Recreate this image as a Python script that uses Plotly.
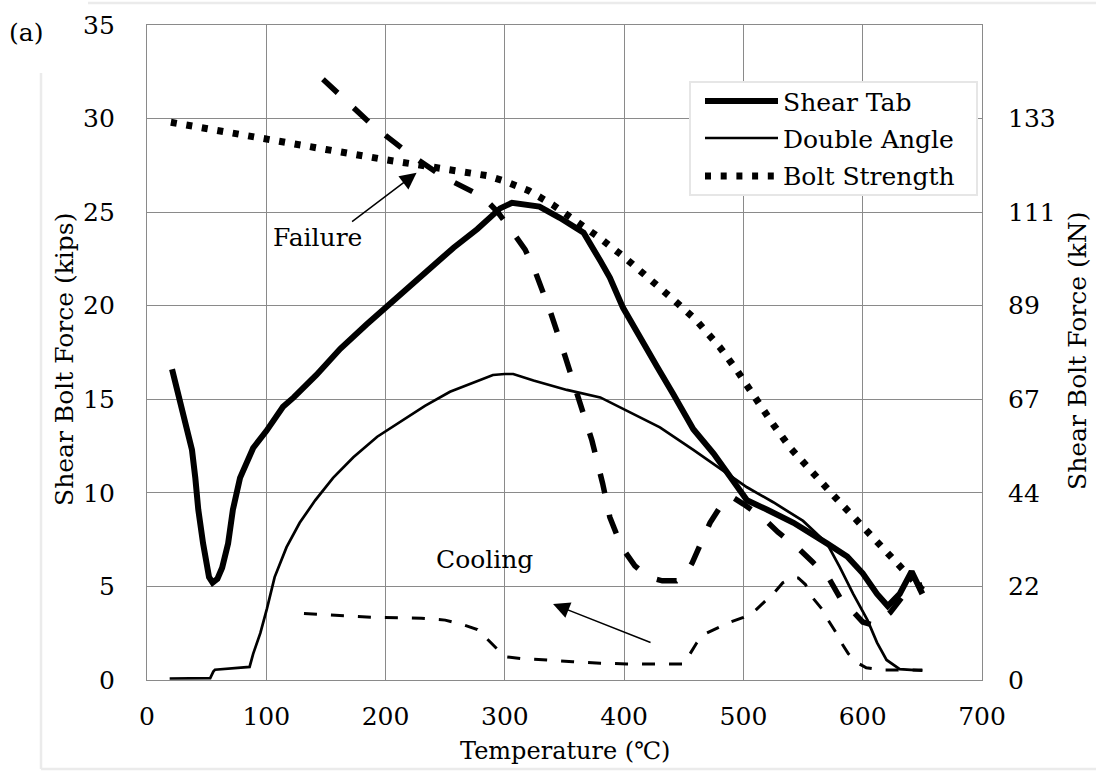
import plotly.graph_objects as go

# ---- data: shear bolt force vs. temperature ----
temp_ticks = [0, 100, 200, 300, 400, 500, 600, 700]
kips_ticks = [0, 5, 10, 15, 20, 25, 30, 35]
kn_ticks = [0, 5, 10, 15, 20, 25, 30]
kn_labels = ["0", "22", "44", "67", "89", "111", "133"]

shear_tab_T = [21, 29, 37.7, 40.5, 43, 47, 52, 55, 59, 63, 68, 72, 78, 89, 100, 114, 123,
               142, 162, 184, 212, 231, 257, 277, 296, 306, 329, 346, 366, 380, 388, 399,
               413, 428, 441, 458, 475, 486, 495, 503, 520, 542, 570, 587, 600, 612, 621,
               631, 641, 650]
shear_tab_F = [16.6, 14.4, 12.3, 10.8, 9.1, 7.3, 5.5, 5.2, 5.4, 6.0, 7.3, 9.1, 10.8, 12.4,
               13.3, 14.6, 15.1, 16.3, 17.7, 19.0, 20.6, 21.6, 23.1, 24.1, 25.2, 25.5, 25.3,
               24.7, 23.9, 22.4, 21.5, 19.9, 18.3, 16.7, 15.3, 13.4, 12.1, 11.1, 10.2, 9.6,
               9.1, 8.4, 7.3, 6.6, 5.7, 4.6, 3.95, 4.6, 5.8, 4.6]

double_angle_T = [19, 53, 55.6, 57, 86, 89, 95, 100.5, 107, 117, 128, 141, 156, 173, 193,
                  212, 233, 254, 290, 300, 307, 324, 352, 380, 396, 430, 458, 483, 503, 525,
                  550, 570, 581, 592, 604, 612, 620, 631, 650]
double_angle_F = [0.08, 0.1, 0.45, 0.55, 0.7, 1.4, 2.5, 3.8, 5.5, 7.1, 8.4, 9.6, 10.8, 11.9,
                  13.0, 13.8, 14.65, 15.4, 16.3, 16.35, 16.35, 16.0, 15.5, 15.1, 14.6, 13.5,
                  12.3, 11.2, 10.3, 9.5, 8.5, 7.3, 6.0, 4.6, 3.2, 2.0, 1.07, 0.58, 0.5]

bolt_strength_T = [20, 100, 150, 200, 250, 285, 300, 320, 340, 360, 380, 400, 420, 440, 460,
                   480, 495, 510, 525, 540, 560, 580, 600, 615, 630, 650]
bolt_strength_F = [29.8, 28.85, 28.35, 27.8, 27.35, 26.95, 26.65, 26.15, 25.4, 24.55, 23.6,
                   22.6, 21.55, 20.4, 19.25, 17.8, 16.5, 15.05, 13.65, 12.35, 10.9, 9.55,
                   8.2, 7.2, 6.15, 4.8]

shear_tab_cool_T = [147.5, 188, 218, 248, 282, 294, 307, 317, 325, 338, 350, 361, 373, 382,
                    388, 398, 409, 420, 432, 444, 451, 457, 464, 472, 482, 490, 500, 516,
                    529, 545, 558, 571, 581, 592, 600, 608, 615, 623, 635, 645, 650]
shear_tab_cool_F = [32.1, 29.7, 28.2, 26.9, 25.8, 25.0, 23.9, 23.0, 21.9, 19.7, 17.4, 15.1,
                    12.8, 10.5, 8.7, 7.1, 6.1, 5.5, 5.3, 5.3, 5.6, 6.25, 7.2, 8.4, 9.4, 9.8,
                    9.4, 8.7, 7.9, 7.1, 6.3, 5.5, 4.4, 3.6, 3.1, 2.95, 3.15, 3.6, 4.6, 5.0,
                    5.1]

double_angle_cool_T = [131.6, 160, 190, 230, 250, 265, 277, 285, 293, 300, 313, 335, 357,
                       380, 402, 450, 455, 461, 469, 479, 489, 500, 508, 518, 525, 533, 541,
                       546, 552, 558, 567, 571, 578, 582, 588, 596, 603, 617, 650]
double_angle_cool_F = [3.55, 3.45, 3.35, 3.3, 3.2, 2.95, 2.7, 2.2, 1.7, 1.25, 1.15, 1.05,
                       0.98, 0.9, 0.86, 0.85, 1.4, 2.0, 2.5, 2.8, 3.1, 3.35, 3.6, 4.2, 4.6,
                       5.2, 5.45, 5.45, 5.1, 4.4, 3.7, 3.2, 2.5, 2.0, 1.4, 0.9, 0.65, 0.53,
                       0.53]

# ---- page geometry ----
W, H = 1096, 771
ML, MR, MT, MB = 147, 114, 25, 91
PW, PH = W - ML - MR, H - MT - MB


def px(x):
    return (x - ML) / PW


def py(y):
    return (H - MB - y) / PH


FONT = "DejaVu Serif"
GRID = "#8a8a8a"
FS = 25

fig = go.Figure()

fig.add_trace(go.Scatter(x=shear_tab_T, y=shear_tab_F, mode="lines", name="Shear Tab",
                         line=dict(color="black", width=6), showlegend=False))
fig.add_trace(go.Scatter(x=double_angle_T, y=double_angle_F, mode="lines", name="Double Angle",
                         line=dict(color="black", width=2.7), showlegend=False))
# kN axis shares the kips range, so this series also carries the right-hand scale
fig.add_trace(go.Scatter(x=bolt_strength_T, y=bolt_strength_F, mode="lines", name="Bolt Strength",
                         yaxis="y2",
                         line=dict(color="black", width=7, dash="6px,9.7px"), showlegend=False))
fig.add_trace(go.Scatter(x=shear_tab_cool_T, y=shear_tab_cool_F, mode="lines",
                         name="Shear Tab (cooling)",
                         line=dict(color="black", width=5.5, dash="20px,22px"), showlegend=False))
fig.add_trace(go.Scatter(x=double_angle_cool_T, y=double_angle_cool_F, mode="lines",
                         name="Double Angle (cooling)",
                         line=dict(color="black", width=3, dash="13px,14px"), showlegend=False))

tick_font = dict(family=FONT, size=FS, color="black")
axis_common = dict(showgrid=True, gridcolor=GRID, gridwidth=1.4, zeroline=False,
                   showline=True, linecolor=GRID, linewidth=1.4, mirror=True, ticks="",
                   tickfont=tick_font)

fig.update_layout(
    width=W, height=H, autosize=False,
    margin=dict(l=ML, r=MR, t=MT, b=MB, pad=0),
    paper_bgcolor="white", plot_bgcolor="white",
    font=dict(family=FONT, size=FS, color="black"),
    xaxis=dict(range=[0, 700], tickvals=temp_ticks, ticklabelstandoff=14, **axis_common),
    yaxis=dict(range=[0, 35], tickvals=kips_ticks, ticklabelstandoff=26, **axis_common),
    yaxis2=dict(range=[0, 35], tickvals=kn_ticks, ticktext=kn_labels, overlaying="y",
                side="right", showgrid=False, zeroline=False, showline=False, ticks="",
                ticklabelstandoff=25, tickfont=tick_font),
)

# faint outer frame
frame = dict(color="#ebebeb", width=2.5)
shapes = [
    dict(type="line", xref="paper", yref="paper", x0=px(88), x1=px(1096), y0=py(3), y1=py(3), line=frame),
    dict(type="line", xref="paper", yref="paper", x0=px(41), x1=px(41), y0=py(73), y1=py(769), line=frame),
    dict(type="line", xref="paper", yref="paper", x0=px(41), x1=px(1096), y0=py(769), y1=py(769), line=frame),
]

# legend box and samples
shapes.append(dict(type="rect", xref="paper", yref="paper", x0=px(690), x1=px(977),
                   y0=py(195), y1=py(82), fillcolor="white",
                   line=dict(color="#e6e6e6", width=2), layer="above"))
legend_rows = [("Shear Tab", 101, dict(color="black", width=6)),
               ("Double Angle", 138, dict(color="black", width=2.7)),
               ("Bolt Strength", 176, dict(color="black", width=7, dash="6px,9.7px"))]
annotations = []
txt = dict(family=FONT, size=FS, color="black")
for label, yy, ln in legend_rows:
    shapes.append(dict(type="line", xref="paper", yref="paper", x0=px(705), x1=px(778),
                       y0=py(yy), y1=py(yy), line=ln, layer="above"))
    annotations.append(dict(text=label, xref="paper", yref="paper", x=px(781), y=py(yy + 1),
                            xanchor="left", yanchor="middle", showarrow=False, font=txt))

annotations += [
    dict(text="(a)", xref="paper", yref="paper", x=px(7), y=py(32), xanchor="left",
         yanchor="middle", showarrow=False, font=txt),
    dict(text="Shear Bolt Force (kips)", xref="paper", yref="paper", x=px(64), y=py(360),
         textangle=-90, xanchor="center", yanchor="middle", showarrow=False, font=txt),
    dict(text="Shear Bolt Force (kN)", xref="paper", yref="paper", x=px(1077), y=py(351),
         textangle=-90, xanchor="center", yanchor="middle", showarrow=False, font=txt),
    dict(text="Temperature (℃)", xref="paper", yref="paper", x=px(565), y=py(751),
         xanchor="center", yanchor="middle", showarrow=False,
         font=dict(family=FONT, size=24, color="black")),
    dict(text="Failure", xref="paper", yref="paper", x=px(317), y=py(238),
         xanchor="center", yanchor="middle", showarrow=False, font=txt),
    dict(text="Cooling", xref="paper", yref="paper", x=px(484), y=py(559),
         xanchor="center", yanchor="middle", showarrow=False, font=txt),
    dict(text="", x=226, y=27.1, xref="x", yref="y", ax=-66, ay=50, axref="pixel",
         ayref="pixel", showarrow=True, arrowhead=2, arrowsize=2.2, arrowwidth=1.5,
         arrowcolor="black", standoff=0),
    dict(text="", x=340.4, y=4.06, xref="x", yref="y", ax=99, ay=39, axref="pixel",
         ayref="pixel", showarrow=True, arrowhead=2, arrowsize=2.2, arrowwidth=1.5,
         arrowcolor="black", standoff=0),
]

fig.update_layout(shapes=shapes, annotations=annotations)

fig.write_html("out.html")
